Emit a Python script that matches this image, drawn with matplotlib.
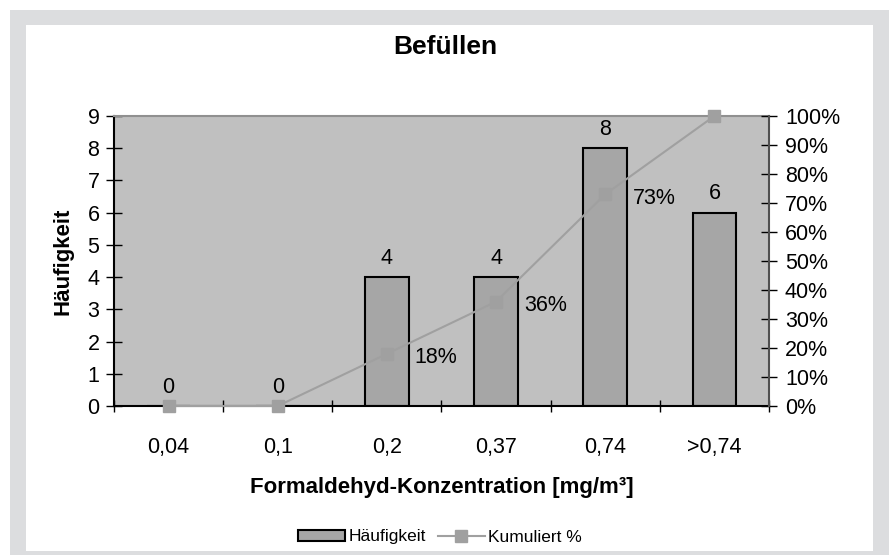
import matplotlib
matplotlib.use("Agg")
import matplotlib.pyplot as plt
from matplotlib.patches import Rectangle
from matplotlib.lines import Line2D
import numpy as np

plt.rcParams['font.family'] = ['Liberation Sans', 'DejaVu Sans']

# data
categories = ["0,04", "0,1", "0,2", "0,37", "0,74", ">0,74"]
counts = [0, 0, 4, 4, 8, 6]
cum_pct = [0.0, 0.0, 0.18, 0.36, 0.73, 1.0]
cum_labels = ["", "", "18%", "36%", "73%", ""]
y_left_ticks = list(range(0, 10))
y_right_ticks = [i / 10 for i in range(11)]

W, H = 889, 555
fig = plt.figure(figsize=(W / 100, H / 100), dpi=100)
fig.patch.set_facecolor("white")

# grey frame around the chart area (pixel coords from top-left)
def px_rect(x0, y0, x1, y1, color):
    fig.patches.append(Rectangle((x0 / W, 1 - y1 / H), (x1 - x0) / W, (y1 - y0) / H,
                                 transform=fig.transFigure, facecolor=color,
                                 edgecolor="none", zorder=-10))

px_rect(10, 10, 889, 555, "#dcdddf")
px_rect(26, 25, 873, 551, "white")

ax = fig.add_axes([114 / W, 1 - 406 / H, (769 - 114) / W, (406 - 116) / H])
ax.set_facecolor("#c0c0c0")

x = np.arange(len(categories))
ax.bar(x, counts, width=0.4, color="#a6a6a6", edgecolor="black", linewidth=1.5, zorder=2)
ax.set_xlim(-0.5, len(categories) - 0.5)
ax.set_ylim(0, 9)
ax.set_yticks(y_left_ticks)
ax.set_xticks(x)
ax.set_xticklabels(categories)
ax.set_xticks(np.arange(-0.5, len(categories)), minor=True)
ax.tick_params(axis="x", which="major", length=0, pad=22, labelsize=15.5)
ax.tick_params(axis="x", which="minor", direction="inout", length=9, width=1)
ax.tick_params(axis="y", direction="inout", length=11, width=1, pad=5, labelsize=15.5)

for s in ["left", "bottom"]:
    ax.spines[s].set_color("black")
    ax.spines[s].set_linewidth(1.5)
ax.spines["top"].set_color("#909090")
ax.spines["top"].set_linewidth(1.5)
ax.spines["right"].set_visible(False)

for xi, c in zip(x, counts):
    ax.annotate(str(c), (xi, c), xytext=(0, 6), textcoords="offset points",
                ha="center", va="bottom", fontsize=15.5)

ax.set_xlabel("Formaldehyd-Konzentration [mg/m³]", fontsize=16,
              fontweight="bold", labelpad=14)
ax.set_ylabel("Häufigkeit", fontsize=16, fontweight="bold", labelpad=10)

ax2 = ax.twinx()
ax2.patch.set_visible(False)
ax2.plot(x, cum_pct, color="#a0a0a0", linewidth=1.5, marker="s", markersize=9,
         markerfacecolor="#a0a0a0", markeredgecolor="#a0a0a0", zorder=3,
         clip_on=False)
ax2.set_ylim(0, 1)
ax2.set_yticks(y_right_ticks)
ax2.set_yticklabels([f"{int(round(v * 100))}%" for v in y_right_ticks])
ax2.tick_params(axis="y", direction="inout", length=11, width=1, pad=6, labelsize=15.5)
for s in ["left", "bottom", "top"]:
    ax2.spines[s].set_visible(False)
ax2.spines["right"].set_color("#505050")
ax2.spines["right"].set_linewidth(1.5)

for xi, v, lab in zip(x, cum_pct, cum_labels):
    if lab:
        ax2.annotate(lab, (xi, v), xytext=(20, -3), textcoords="offset points",
                     ha="left", va="center", fontsize=15.5)

fig.text(445 / W, 1 - 47 / H, "Befüllen", ha="center", va="center",
         fontsize=19, fontweight="bold")

handles = [
    Rectangle((0, 0), 1, 1, facecolor="#a6a6a6", edgecolor="black", linewidth=1.5),
    Line2D([], [], color="#a0a0a0", linewidth=1.5, marker="s", markersize=9),
]
fig.legend(handles, ["Häufigkeit", "Kumuliert %"], loc="center",
           bbox_to_anchor=(440 / W, 1 - 537 / H), ncol=2, frameon=False,
           fontsize=12.5, handlelength=2.7, handleheight=0.6,
           handletextpad=0.2, columnspacing=0.7)

fig.savefig("out.png", dpi=100)
